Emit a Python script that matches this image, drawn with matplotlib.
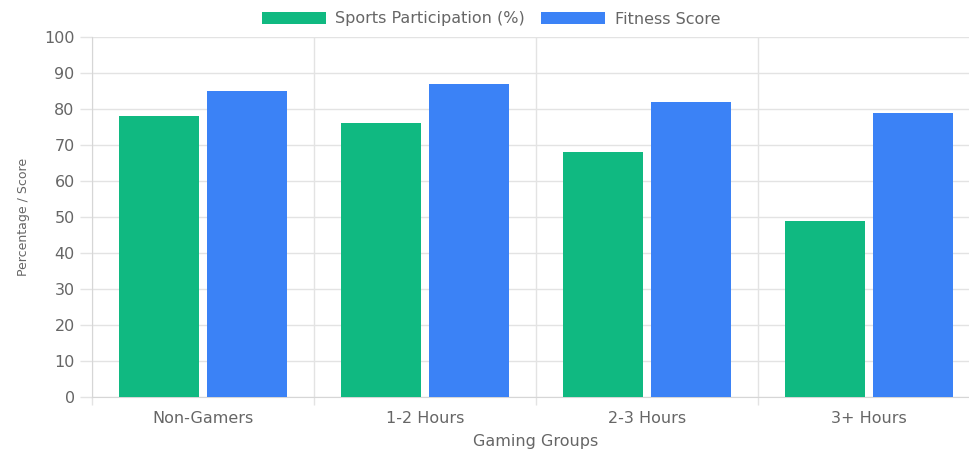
import matplotlib.pyplot as plt
import numpy as np

groups = ["Non-Gamers", "1-2 Hours", "2-3 Hours", "3+ Hours"]
sports = [78, 76, 68, 49]
fitness = [85, 87, 82, 79]

green = "#10b981"
blue = "#3b82f6"
grid_c = "#e3e3e3"
text_c = "#666666"

plt.rcParams["font.family"] = ["DejaVu Sans"]

fig = plt.figure(figsize=(9.7, 4.5), dpi=100)
# plot area runs slightly past the right edge of the canvas
ax = fig.add_axes([92 / 970, 1 - 397 / 450, 888 / 970, 360 / 450])

x = np.arange(len(groups))
w = 0.36
ax.bar(x - 0.2, sports, w, color=green, label="Sports Participation (%)", zorder=3)
ax.bar(x + 0.2, fitness, w, color=blue, label="Fitness Score", zorder=3)

ax.set_xlim(-0.5, len(groups) - 0.5)
ax.set_ylim(0, 100)
ax.set_yticks(range(0, 101, 10))
ax.set_xticks(x)
ax.set_xticklabels(groups)
ax.set_xticks(np.arange(len(groups) + 1) - 0.5, minor=True)

ax.tick_params(axis="x", which="major", length=0, pad=10, labelsize=11.5, labelcolor=text_c)
ax.tick_params(axis="x", which="minor", length=6, color=grid_c, width=1)
ax.tick_params(axis="y", length=9, color=grid_c, width=1, pad=3.5, labelsize=11.5, labelcolor=text_c)

ax.grid(axis="y", color=grid_c, linewidth=1, zorder=0)
ax.grid(axis="x", which="minor", color=grid_c, linewidth=1, zorder=0)

for s in ["top", "right"]:
    ax.spines[s].set_visible(False)
ax.spines["left"].set_color("#d6d6d6")
ax.spines["bottom"].set_color("#d6d6d6")

ax.set_xlabel("Gaming Groups", fontsize=11.5, color=text_c, labelpad=6)
ax.set_ylabel("Percentage / Score", fontsize=9, color=text_c, labelpad=10)

fig.legend(loc="center", bbox_to_anchor=(491 / 970, 1 - 19 / 450), ncol=2,
           frameon=False, fontsize=11.5, labelcolor=text_c,
           handlelength=4.0, handleheight=0.75, handletextpad=0.6,
           columnspacing=1.0, borderaxespad=0)

fig.savefig("out.png", dpi=100)
